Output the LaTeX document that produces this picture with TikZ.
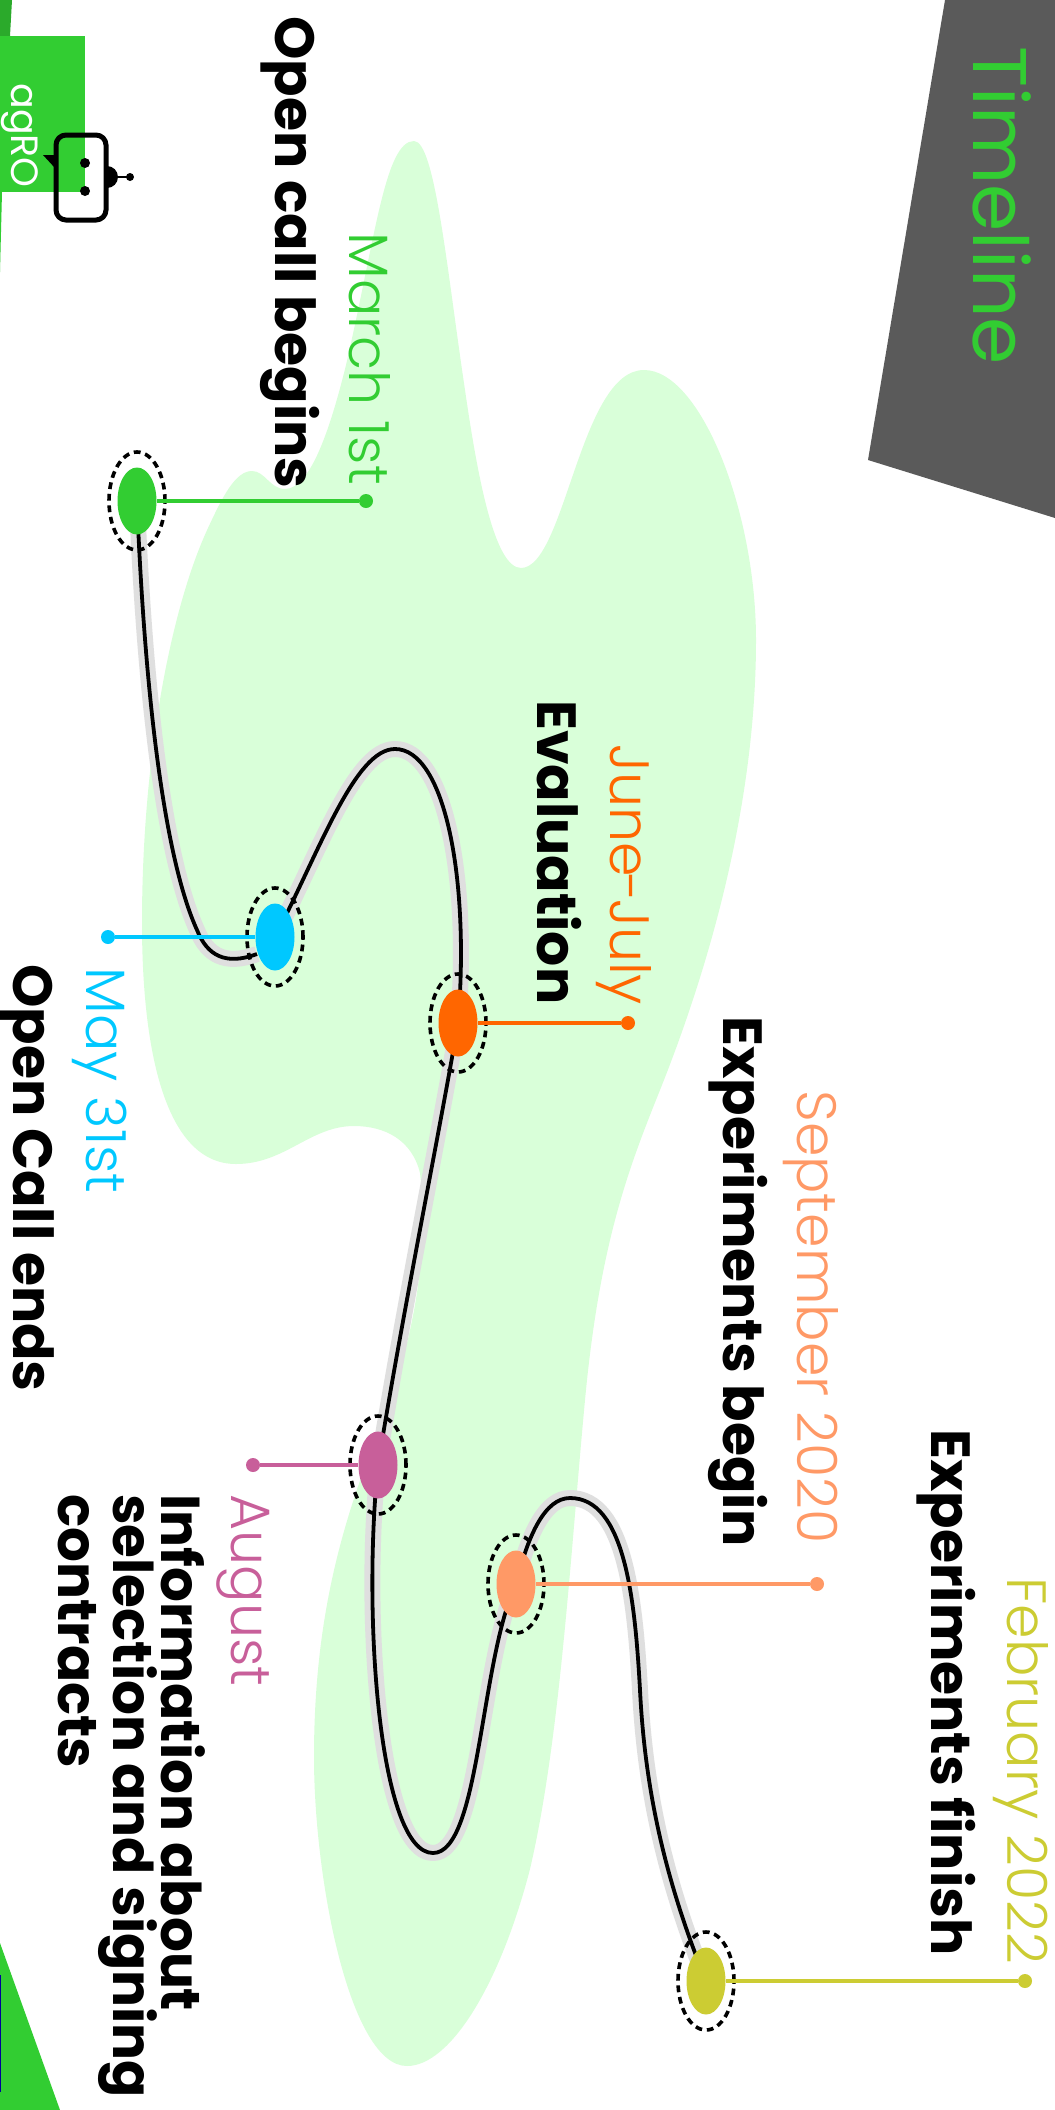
\documentclass[tikz,border=0pt]{standalone}
\usepackage{fontspec}
\setmainfont{Poppins}
\newfontfamily\lightfont{Poppins Light}
\usetikzlibrary{shapes.geometric}
\definecolor{cgreen}{HTML}{32CD32}
\definecolor{cdark}{HTML}{2BAA2B}
\definecolor{cblob}{HTML}{D9FFD9}
\definecolor{cslab}{HTML}{5A5A5A}
\definecolor{cblue}{HTML}{00C8FF}
\definecolor{corange}{HTML}{FF6600}
\definecolor{cmag}{HTML}{C85F9A}
\definecolor{cpeach}{HTML}{FF9966}
\definecolor{cyel}{HTML}{CCCC33}
\definecolor{chalo}{HTML}{DFDFDF}
\tikzset{
 mile/.style={ellipse,draw=none,fill=#1,minimum width=19.5pt,minimum height=33.5pt,inner sep=0pt},
 ring/.style={ellipse,draw=black,line width=1.8pt,dash pattern=on 3.4pt off 2.4pt,minimum width=28pt,minimum height=49pt,inner sep=0pt},
 dotend/.style={circle,fill=#1,minimum size=7pt,inner sep=0pt},
 lead/.style={draw=#1,line width=1.7pt},
 halo/.style={draw=chalo,line width=8pt,line join=round},
 track/.style={draw=black,line width=1.9pt,line join=round},
 datetxt/.style={rotate=-90,anchor=base west,inner sep=0pt,font=\lightfont\fontsize{27.7}{30}\selectfont,text=#1},
 headtxt/.style={rotate=-90,anchor=base west,inner sep=0pt,font=\bfseries\fontsize{27.6}{27.6}\selectfont,text=black},
}
\begin{document}
\begin{tikzpicture}[x=0.5pt,y=-0.5pt]
\useasboundingbox (0,0) rectangle (1055,2110);
\fill[white] (0,0) rectangle (1055,2110);
% background shapes
\fill[cslab] (945,0) -- (868,460) -- (1055,518) -- (1055,0) -- cycle;
\fill[cblob] (414,141) .. controls (435,141) and (447,270) .. (465,390)
 .. controls (478,480) and (495,568) .. (521,568)
 .. controls (565,568) and (580,370) .. (644,370)
 .. controls (700,370) and (756,510) .. (756,640)
 .. controls (756,820) and (700,990) .. (660,1090)
 .. controls (630,1165) and (600,1240) .. (585,1400)
 .. controls (570,1560) and (560,1740) .. (530,1869)
 .. controls (500,1985) and (450,2066) .. (407,2066)
 .. controls (350,2066) and (314,1880) .. (314,1757)
 .. controls (314,1600) and (350,1500) .. (391,1400)
 .. controls (410,1340) and (430,1260) .. (420,1173)
 .. controls (412,1140) and (385,1126) .. (354,1126)
 .. controls (310,1126) and (285,1164) .. (236,1164)
 .. controls (165,1164) and (142,1050) .. (142,923)
 .. controls (142,760) and (170,610) .. (208,528)
 .. controls (222,498) and (235,471) .. (252,471)
 .. controls (265,471) and (270,489) .. (285,489)
 .. controls (310,489) and (330,430) .. (346,365)
 .. controls (375,240) and (385,141) .. (414,141) -- cycle;
% corner shapes
\fill[cdark] (0,0) -- (12,0) -- (10,36) -- (0,36) -- cycle;
\fill[cgreen] (0,36) rectangle (85,192);
\fill[cgreen] (0,192) -- (2,192) -- (0,272) -- cycle;
\fill[cgreen] (0,1943) -- (60,2110) -- (0,2110) -- cycle;
\fill[blue!60!black] (0,1975) rectangle (1,2092);
\node[rotate=-90,anchor=base west,inner sep=0pt,text=white,font=\fontsize{19}{19}\selectfont] (logo) at (11,83) {agRO};
% robot
\draw[black,line width=2.5pt,rounded corners=5pt] (56,135) rectangle (106,220);
\fill[black] (85,163) circle[radius=5];
\fill[black] (85,191) circle[radius=5];
\fill[black] (43,155) -- (55,155) -- (55,168) -- cycle;
\fill[black] (107,166) arc[start angle=-90,end angle=90,radius=11] -- cycle;
\draw[black,line width=1pt] (118,177) -- (130,177);
\fill[black] (130,177) circle[radius=4];
% milestone positions
\coordinate (pg) at (137,501);
\coordinate (pb) at (275,937);
\coordinate (po) at (458,1023);
\coordinate (pm) at (378,1465);
\coordinate (pp) at (516,1584);
\coordinate (py) at (706,1981);
% turning points of the track
\coordinate (wa) at (197,930);
\coordinate (wb) at (257,954);
\coordinate (wc) at (395,749);
\coordinate (wd) at (433,1853);
\coordinate (we) at (570,1498);
\coordinate (wf) at (640,1690);
\def\trackA{(pg) .. controls (145,700) and (165,860) .. (wa) .. controls (207,955) and (225,966) .. (wb)}
\def\trackB{(pb) .. controls (320,850) and (355,749) .. (wc) .. controls (445,749) and (470,880) .. (po)}
\def\trackC{(po) .. controls (440,1130) and (405,1300) .. (pm)}
\def\trackD{(pm) .. controls (362,1620) and (380,1853) .. (wd) .. controls (480,1853) and (480,1660) .. (pp)}
\def\trackE{(pp) .. controls (528,1535) and (545,1498) .. (we) .. controls (625,1498) and (635,1600) .. (wf) .. controls (645,1790) and (665,1880) .. (py)}
\draw[halo] \trackA; \draw[halo] \trackB; \draw[halo] \trackC; \draw[halo] \trackD; \draw[halo] \trackE;
\node[ring] (rg) at (pg) {};
\node[ring] (rb) at (pb) {};
\node[ring] (ro) at (po) {};
\node[ring] (rm) at (pm) {};
\node[ring] (rp) at (pp) {};
\node[ring] (ry) at (py) {};
\draw[track] \trackA; \draw[track] \trackB; \draw[track] \trackC; \draw[track] \trackD; \draw[track] \trackE;
% milestones
\node[mile=cgreen] (mg) at (pg) {};
\node[mile=cblue] (mb) at (pb) {};
\node[mile=corange] (mo) at (po) {};
\node[mile=cmag] (mm) at (pm) {};
\node[mile=cpeach] (mp) at (pp) {};
\node[mile=cyel] (my) at (py) {};
% leader ends
\node[dotend=cgreen] (dg) at (366,501) {};
\node[dotend=cblue] (db) at (108,937) {};
\node[dotend=corange] (do) at (628,1023) {};
\node[dotend=cmag] (dm) at (253,1465) {};
\node[dotend=cpeach] (dp) at (817,1584) {};
\node[dotend=cyel] (dy) at (1025,1981) {};
\draw[lead=cgreen] (mg) -- (dg);
\draw[lead=cblue] (mb) -- (db);
\draw[lead=corange] (mo) -- (do);
\draw[lead=cmag] (mm) -- (dm);
\draw[lead=cpeach] (mp) -- (dp);
\draw[lead=cyel] (my) -- (dy);
% labels
\node[rotate=-90,anchor=base west,inner sep=0pt,text=cgreen,font=\fontsize{38}{38}\selectfont] (title) at (973,46) {Timeline};
\node[headtxt] (t1) at (275,16) {Open call begins};
\node[datetxt=cgreen] (d1t) at (349,232) {March 1st};
\node[headtxt] (t2) at (537,700) {Evaluation};
\node[datetxt=corange] (d2t) at (610,744) {June\kern-1.5pt-\kern-1.5pt July};
\node[headtxt] (t3) at (723,1016) {Experiments begin};
\node[datetxt=cpeach] (d3t) at (797,1090) {September 2020};
\node[headtxt] (t4) at (931,1429) {Experiments finish};
\node[datetxt=cyel] (d4t) at (1007,1577) {February 2022};
\node[datetxt=cblue] (d5t) at (86,967) {May 31st};
\node[headtxt] (t5) at (13,964) {Open Call ends};
\node[datetxt=cmag] (d6t) at (231,1494) {August};
\node[rotate=-90,anchor=north west,inner sep=0pt,align=left,text=black,font=\bfseries\fontsize{27.4}{24.3}\selectfont] (t6) at (206,1494) {Information about\\selection and signing\\contracts};
\end{tikzpicture}
\end{document}
